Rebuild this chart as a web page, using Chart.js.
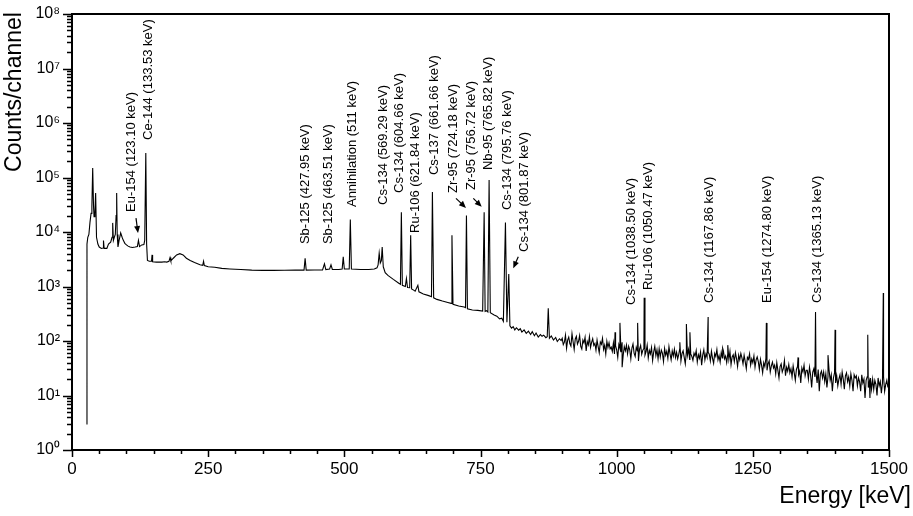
<!DOCTYPE html>
<html>
<head>
<meta charset="utf-8">
<script src="https://cdn.jsdelivr.net/npm/chart.js@4/dist/chart.umd.min.js"></script>
<style>
  html, body { margin: 0; padding: 0; background: #fff; }
</style>
</head>
<body>
<canvas id="spectrum" width="913" height="516"></canvas>
<script>
// spectrum below 900 keV: [energy keV] / [counts per channel]
const lowEnergy = [26.5, 27.5, 29, 31, 33, 35, 36.5, 38, 39.5, 40.5, 42, 43.4, 45, 47.5, 50, 54, 57, 57.8, 59, 64, 67, 71, 73.5, 74.7, 76, 77.7, 79.5, 81, 82, 83, 84.4, 86.5, 89.4, 92, 94, 97, 100, 103, 106.5, 111, 116, 120, 122, 124, 128, 132, 133.5, 135.5, 137, 138.5, 142, 146, 147, 148, 155, 165, 170, 174, 178, 180, 181.5, 186, 192, 198, 204, 210, 217, 225, 235, 240, 241.5, 243, 250, 262, 275, 290, 310, 330, 350, 370, 390, 410, 426, 428, 430, 445, 460, 463.5, 466, 473, 475.5, 478, 490, 496, 498, 500, 509, 511, 513, 530, 545, 555, 560, 562, 564, 566, 568, 569.5, 571.5, 575, 580, 590, 600, 603, 604.7, 606.5, 612, 614, 616, 620, 621.8, 623.5, 628, 630, 635, 637, 645, 655, 660, 661.7, 664, 670, 680, 690, 696, 697.6, 699.5, 710, 720, 722.5, 724.2, 726, 735, 745, 754, 756.7, 758.5, 761, 763.5, 765.8, 768, 775, 780, 785, 789, 792, 795.8, 798.5, 801.9, 804, 807, 810, 813, 816, 820, 823, 826, 830, 834, 838, 842, 845, 849, 852, 856, 860, 863, 866, 870, 872.5, 874.4, 876.5, 880, 884, 888, 891, 895, 898];
const lowCounts = [3, 6000, 8000, 9000, 15000, 22000, 29000, 150000, 30000, 19000, 22000, 52000, 8000, 6000, 5300, 5000, 5100, 7000, 5000, 5000, 6000, 6500, 8000, 14700, 7000, 8000, 9000, 20000, 52000, 9000, 5300, 7000, 9600, 8000, 7100, 6200, 5800, 5500, 5300, 5200, 5300, 5400, 7000, 5400, 5800, 5900, 7000, 280000, 6000, 3000, 2900, 2900, 3800, 2850, 2800, 2800, 2850, 2800, 2900, 3400, 2950, 3300, 3800, 4000, 3800, 3300, 3000, 2750, 2500, 2450, 2900, 2420, 2300, 2250, 2150, 2100, 2050, 2000, 1980, 1980, 1990, 2000, 2000, 3300, 2000, 2010, 2020, 2600, 2050, 2100, 2500, 2050, 2050, 2100, 3500, 2100, 2100, 17000, 2100, 2050, 2050, 2100, 2200, 2500, 4100, 2700, 3000, 5300, 2300, 1800, 1600, 1350, 1150, 1100, 23000, 1050, 1000, 1400, 960, 950, 8700, 900, 850, 820, 1050, 800, 730, 680, 650, 54000, 620, 580, 540, 510, 490, 8700, 470, 440, 420, 410, 20000, 390, 370, 365, 355, 23000, 350, 360, 340, 90000, 330, 300, 285, 255, 262, 230, 15000, 220, 1700, 190, 172, 184, 160, 175, 158, 168, 146, 160, 138, 152, 132, 148, 125, 140, 118, 131, 122, 128, 115, 120, 400, 112, 124, 104, 116, 98, 110, 102];

// noisy continuum from 900 keV, one reading every 2 keV
const tailStart = 900;
const tailStep = 2;
const tailCounts = [
  112, 86, 95, 128, 74, 104, 118, 90, 81, 136, 97, 70, 109, 122, 88,
  99, 126, 80, 71, 104, 92, 117, 66, 98, 85, 121, 76, 94, 110, 83,
  90, 68, 104, 79, 61, 96, 87, 112, 70, 84, 58, 99, 76, 93, 72,
  77, 64, 92, 58, 81, 69, 50, 86, 73, 62, 95, 55, 79, 66, 84,
  58, 80, 69, 47, 74, 88, 60, 52, 77, 66, 43, 71, 83, 57, 68,
  73, 55, 64, 84, 49, 67, 58, 76, 44, 63, 80, 54, 69, 47, 72,
  51, 68, 60, 42, 73, 55, 65, 48, 79, 58, 45, 66, 53, 71, 50,
  62, 47, 57, 74, 43, 59, 66, 50, 38, 64, 55, 70, 46, 58, 52,
  44, 60, 53, 67, 41, 56, 48, 63, 36, 55, 69, 45, 58, 50, 62,
  57, 43, 65, 48, 39, 59, 52, 70, 45, 54, 41, 62, 49, 66, 47,
  53, 40, 58, 46, 64, 37, 51, 56, 42, 61, 48, 34, 55, 45, 59,
  49, 38, 55, 42, 31, 50, 46, 58, 36, 47, 40, 53, 33, 45, 51,
  42, 30, 46, 36, 26, 40, 34, 48, 29, 38, 43, 27, 35, 41, 32,
  36, 25, 40, 29, 21, 34, 38, 27, 31, 44, 23, 33, 28, 37, 26,
  31, 22, 35, 26, 19, 30, 34, 24, 28, 17, 32, 27, 36, 23, 29,
  29, 20, 33, 24, 14, 27, 31, 22, 26, 17, 30, 12, 25, 28, 21,
  27, 18, 25, 14, 22, 29, 19, 24, 12, 21, 26, 17, 23, 15, 20,
  24, 16, 27, 20, 13, 23, 26, 18, 22, 15, 25, 19, 12, 24, 21,
  23, 15, 21, 18, 12, 24, 17, 20, 9, 19, 22, 14, 18, 21, 13,
  20, 13, 19, 16, 10, 21, 15, 18, 11, 17, 22, 12, 16, 19, 14
];
// peaks (and a few dips) sitting on the continuum above 900 keV
const tailPeakEnergy = [997, 1006, 1010, 1038.5, 1050.5, 1116, 1128, 1134.5, 1167.9, 1194.6, 1204, 1274.8, 1333, 1365.1, 1388, 1401, 1461, 1465, 1489.5];
const tailPeakCounts = [145, 215, 33, 215, 620, 95, 205, 145, 275, 74, 84, 215, 50, 340, 55, 160, 130, 9, 760];

// axis ticks
const xMajor = [0, 250, 500, 750, 1000, 1250, 1500];
const yMajor = [1, 1e1, 1e2, 1e3, 1e4, 1e5, 1e6, 1e7, 1e8];

// peak annotations: text, energy of the text column, counts where the text starts
const peakLabels = ['Eu-154 (123.10 keV)', 'Ce-144 (133.53 keV)', 'Sb-125 (427.95 keV)', 'Sb-125 (463.51 keV)', 'Annihilation (511 keV)', 'Cs-134 (569.29 keV)', 'Cs-134 (604.66 keV)', 'Ru-106 (621.84 keV)', 'Cs-137 (661.66 keV)', 'Zr-95 (724.18 keV)', 'Zr-95 (756.72 keV)', 'Nb-95 (765.82 keV)', 'Cs-134 (795.76 keV)', 'Cs-134 (801.87 keV)', 'Cs-134 (1038.50 keV)', 'Ru-106 (1050.47 keV)', 'Cs-134 (1167.86 keV)', 'Eu-154 (1274.80 keV)', 'Cs-134 (1365.13 keV)'];
const labelEnergy = [108.3, 139.5, 427.8, 470, 514, 571, 602, 630, 664.6, 699.5, 732.5, 763.7, 798.6, 829.8, 1028, 1057.5, 1171, 1276, 1368];
const labelBase = [23300, 490000, 6000, 6000, 28700, 31300, 52000, 9600, 111000, 52000, 59000, 137000, 25300, 4300, 458, 865, 500, 500, 500];
// arrows pointing at small peaks: [energy, counts]
const arrowFrom = [[117.5, 18000], [705, 41500], [736.8, 41500], [819.4, 3520]];
const arrowTo = [[121.2, 9600], [723.3, 27700], [752.2, 29100], [810.2, 2160]];

const FONT = "'Liberation Sans', Arial, sans-serif";
const SUP = ['\u2070', '\u00b9', '\u00b2', '\u00b3', '\u2074', '\u2075', '\u2076', '\u2077', '\u2078'];

const points = [];
lowEnergy.forEach((e, i) => points.push({ x: e, y: lowCounts[i] }));
tailCounts.forEach((c, i) => points.push({ x: tailStart + i * tailStep, y: c }));
tailPeakEnergy.forEach((e, i) => points.push({ x: e, y: tailPeakCounts[i] }));
points.sort((a, b) => a.x - b.x);

const decorations = {
  id: 'decorations',
  afterDraw(chart) {
    const { ctx, chartArea: a, scales: { x, y } } = chart;
    ctx.save();
    ctx.strokeStyle = '#000';
    ctx.fillStyle = '#000';

    // frame
    ctx.lineWidth = 2;
    ctx.strokeRect(a.left, a.top, a.right - a.left, a.bottom - a.top);

    // tick marks, pointing outwards
    ctx.lineWidth = 1.5;
    ctx.beginPath();
    for (let v = 0; v <= 1500; v += 50) {
      const px = Math.round(x.getPixelForValue(v)) + 0.5;
      ctx.moveTo(px, a.bottom);
      ctx.lineTo(px, a.bottom + (v % 250 === 0 ? 7 : 4));
    }
    for (let e = 0; e < 8; e++) {
      for (let k = 1; k <= 9; k++) {
        const py = Math.round(y.getPixelForValue(k * Math.pow(10, e))) + 0.5;
        ctx.moveTo(a.left, py);
        ctx.lineTo(a.left - (k === 1 ? 9 : 5), py);
      }
    }
    const pTop = Math.round(y.getPixelForValue(1e8)) + 0.5;
    ctx.moveTo(a.left, pTop);
    ctx.lineTo(a.left - 9, pTop);
    ctx.stroke();

    // peak labels
    ctx.font = '13px ' + FONT;
    ctx.textAlign = 'left';
    ctx.textBaseline = 'middle';
    peakLabels.forEach((t, i) => {
      ctx.save();
      ctx.translate(x.getPixelForValue(labelEnergy[i]), y.getPixelForValue(labelBase[i]));
      ctx.rotate(-Math.PI / 2);
      ctx.fillText(t, 0, 0);
      ctx.restore();
    });

    // arrows
    ctx.lineWidth = 1.2;
    arrowFrom.forEach((f, i) => {
      const x0 = x.getPixelForValue(f[0]), y0 = y.getPixelForValue(f[1]);
      const x1 = x.getPixelForValue(arrowTo[i][0]), y1 = y.getPixelForValue(arrowTo[i][1]);
      const ang = Math.atan2(y1 - y0, x1 - x0);
      ctx.beginPath();
      ctx.moveTo(x0, y0);
      ctx.lineTo(x1 - 4 * Math.cos(ang), y1 - 4 * Math.sin(ang));
      ctx.stroke();
      ctx.beginPath();
      ctx.moveTo(x1, y1);
      ctx.lineTo(x1 - 7 * Math.cos(ang) + 3 * Math.sin(ang), y1 - 7 * Math.sin(ang) - 3 * Math.cos(ang));
      ctx.lineTo(x1 - 7 * Math.cos(ang) - 3 * Math.sin(ang), y1 - 7 * Math.sin(ang) + 3 * Math.cos(ang));
      ctx.closePath();
      ctx.fill();
    });

    // axis titles
    ctx.font = '23px ' + FONT;
    ctx.textAlign = 'right';
    ctx.textBaseline = 'middle';
    ctx.fillText('Energy [keV]', 911, 497);
    ctx.save();
    ctx.translate(15, (a.top + 170) / 2);
    ctx.rotate(-Math.PI / 2);
    ctx.textAlign = 'center';
    ctx.fillText('Counts/channel', 0, 0);
    ctx.restore();

    ctx.restore();
  }
};

new Chart(document.getElementById('spectrum'), {
  type: 'line',
  data: {
    datasets: [{
      data: points,
      borderColor: '#000',
      borderWidth: 1.1,
      pointRadius: 0,
      tension: 0,
      fill: false
    }]
  },
  options: {
    responsive: false,
    animation: false,
    devicePixelRatio: 1,
    parsing: false,
    layout: { padding: { top: 14, right: 24, left: 0, bottom: 0 } },
    plugins: { legend: { display: false }, tooltip: { enabled: false } },
    scales: {
      x: {
        type: 'linear',
        min: 0,
        max: 1500,
        afterFit: s => { s.height = 66; s.paddingLeft = 0; s.paddingRight = 0; },
        afterBuildTicks: s => { s.ticks = xMajor.map(v => ({ value: v })); },
        grid: { display: false, drawTicks: false },
        border: { display: false },
        ticks: { padding: 9, maxRotation: 0, color: '#000', font: { family: FONT, size: 17 }, callback: v => String(v) }
      },
      y: {
        type: 'logarithmic',
        min: 1,
        max: 1e8,
        afterFit: s => { s.width = 72; s.paddingTop = 0; s.paddingBottom = 0; },
        afterBuildTicks: s => { s.ticks = yMajor.map(v => ({ value: v })); },
        grid: { display: false, drawTicks: false },
        border: { display: false },
        ticks: {
          padding: 12,
          color: '#000',
          font: { family: FONT, size: 16 },
          callback: v => '10' + SUP[Math.round(Math.log10(v))]
        }
      }
    }
  },
  plugins: [decorations]
});
</script>
</body>
</html>
